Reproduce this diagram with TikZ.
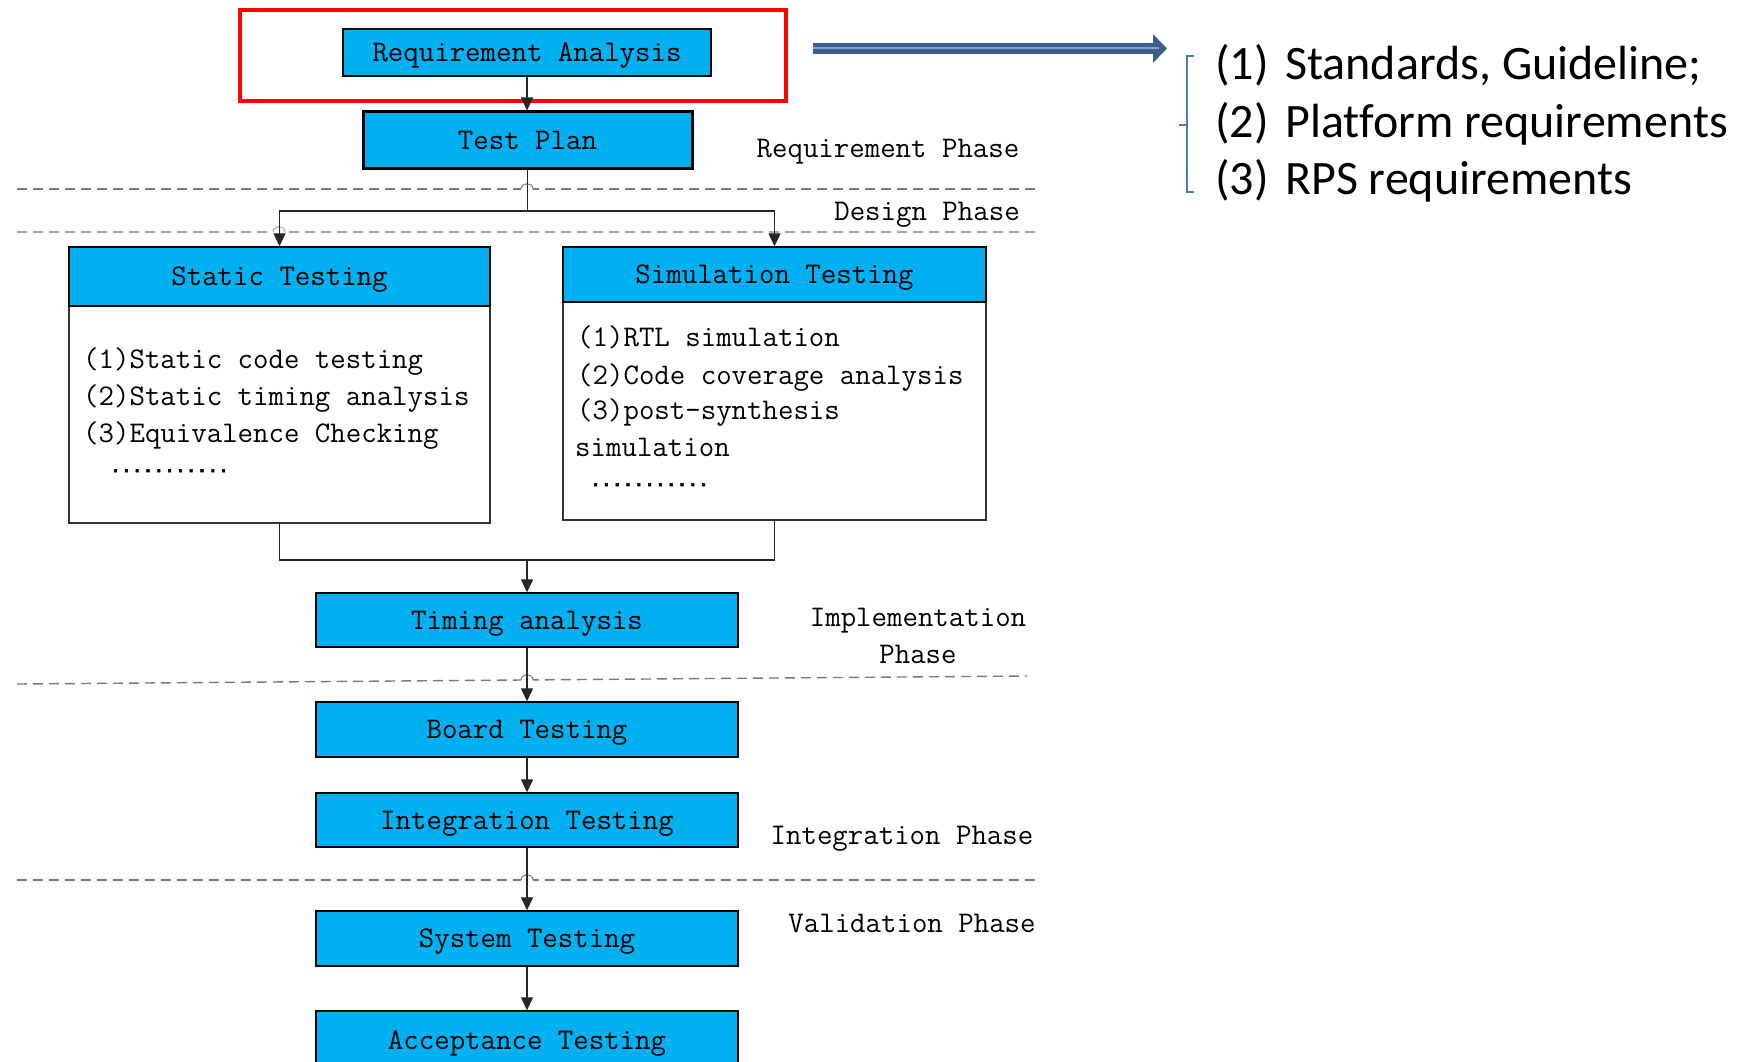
\documentclass[tikz,border=0pt]{standalone}
\usepackage{fontspec}
\usetikzlibrary{arrows.meta}
\newfontfamily\listfont[Ligatures=NoCommon]{Carlito}
\newfontfamily\dotfont[FakeBold=3]{Liberation Mono}
\newcommand\flowfont{\ttfamily\fontsize{30}{37}\selectfont}
\definecolor{boxcyan}{HTML}{00B0F0}
\definecolor{arrowdark}{HTML}{3B5E8C}
\definecolor{arrowlight}{HTML}{7FA3D1}
\definecolor{bracketblue}{HTML}{4A7EBB}
\definecolor{phasegray}{HTML}{7A7A7A}
\definecolor{phaselight}{HTML}{A6A6A6}
\tikzset{
  flowbox/.style={draw=black, line width=1.4pt, fill=boxcyan, inner sep=0pt,
    font=\flowfont, text height=18.3pt, text depth=0pt},
  bodybox/.style={draw=black!80, line width=1.3pt, fill=white, inner sep=0pt},
  lbl/.style={inner sep=0pt, font=\flowfont, text height=18.3pt, text depth=0pt},
  dots/.style={inner sep=0pt, font=\dotfont\bfseries\fontsize{18}{18}\selectfont},
  wire/.style={line width=1.3pt, black!85},
  flow/.style={wire, -{Triangle[length=13pt,width=12pt]}},
  phaseline/.style={dash pattern=on 10pt off 6pt, line width=1.4pt, phasegray},
  hop/.style={line width=1pt, phasegray},
  gap/.style={white, line width=4pt},
  listline/.style={inner sep=0pt, anchor=base west, font=\listfont\fontsize{48}{57}\selectfont}
}
\begin{document}
\begin{tikzpicture}[x=1pt,y=-1pt]
\useasboundingbox (0,0) rectangle (1739,1062);
\clip (0,0) rectangle (1739,1062);
\fill[white] (0,0) rectangle (1739,1062);

% phase separators
\draw[phaseline] (17,189) -- (1038,189);
\draw[phaseline, phaselight] (17,232) -- (1035,232);
\draw[phaseline] (17,684) -- (1027,676);
\draw[phaseline] (17,880) -- (1038,880);

% line hops where connectors cross the separators
\draw[gap] (521,189) -- (533,189);
\draw[hop] (521,189) .. controls (521,182) and (533,182) .. (533,189);
\draw[gap, line width=3pt] (273,232) -- (285,232);
\draw[hop, phaselight] (273,232) .. controls (273,225) and (285,225) .. (285,232);
\draw[gap] (521,680) -- (533,680);
\draw[hop] (521,680) .. controls (521,673) and (533,673) .. (533,680);
\draw[gap] (521,880) -- (533,880);
\draw[hop] (521,880) .. controls (521,873) and (533,873) .. (533,880);

% highlight frame
\node[draw=red, line width=4pt, minimum width=546pt, minimum height=91pt, inner sep=0pt] (focus) at (513,55.5) {};

% flow boxes
\node[flowbox, minimum width=368pt, minimum height=47pt] (ra) at (527,52.5) {Requirement Analysis};
\node[flowbox, line width=3pt, minimum width=329pt, minimum height=56pt] (tp) at (527.5,140) {Test Plan};

\node[bodybox, minimum width=421pt, minimum height=217pt] (staticbody) at (279.5,414.5) {};
\node[flowbox, minimum width=421pt, minimum height=59pt] (static) at (279.5,276.5) {Static Testing};
\node[bodybox, minimum width=423pt, minimum height=218pt] (simbody) at (774.5,411) {};
\node[flowbox, minimum width=423pt, minimum height=55pt] (sim) at (774.5,274.5) {Simulation Testing};

\node[flowbox, minimum width=422pt, minimum height=54pt] (timing) at (527,620) {Timing analysis};
\node[flowbox, minimum width=422pt, minimum height=55pt] (board) at (527,729.5) {Board Testing};
\node[flowbox, minimum width=422pt, minimum height=54pt] (integ) at (527,820) {Integration Testing};
\node[flowbox, minimum width=422pt, minimum height=55pt] (system) at (527,938.5) {System Testing};
\node[flowbox, minimum width=422pt, minimum height=58pt] (accept) at (527,1040) {Acceptance Testing};

% box contents
\node[lbl, anchor=west] (s1) at (83,359) {(1)Static code testing};
\node[lbl, anchor=west] (s2) at (83,396) {(2)Static timing analysis};
\node[lbl, anchor=west] (s3) at (83,433) {(3)Equivalence Checking};
\node[dots, anchor=base west] (s4) at (110,472) {...........};
\node[lbl, anchor=west] (m1) at (577,337) {(1)RTL simulation};
\node[lbl, anchor=west] (m2) at (577,375) {(2)Code coverage analysis};
\node[lbl, anchor=west] (m3) at (577,410) {(3)post-synthesis};
\node[lbl, anchor=west] (m4) at (575,447) {simulation};
\node[dots, anchor=base west] (m5) at (590,486) {...........};

% phase labels
\node[lbl] (p1) at (888,148) {Requirement Phase};
\node[lbl] (p2) at (927,211) {Design Phase};
\node[lbl, align=center, text height=, text depth=] (p3) at (918,636) {Implementation\\Phase};
\node[lbl] (p4) at (902,835) {Integration Phase};
\node[lbl] (p5) at (912,923) {Validation Phase};

% connectors
\coordinate (split) at (527,211);
\coordinate (merge) at (527,560);
\draw[flow] (ra.south) -- (ra.south |- tp.north);
\draw[wire] (tp.south) -- (tp.south |- split);
\draw[flow] (split) -| (static.north);
\draw[flow] (split) -| (sim.north);
\draw[wire] (staticbody.south) |- (merge);
\draw[wire] (simbody.south) |- (merge);
\draw[flow] (merge) -- (timing.north);
\draw[flow] (timing.south) -- (board.north);
\draw[flow] (board.south) -- (integ.north);
\draw[flow] (integ.south) -- (system.north);
\draw[flow] (system.south) -- (accept.north);

% requirement sources
\coordinate (arrowstart) at (813,48.5);
\coordinate (arrowend) at (1167,48.5);
\draw[arrowdark, line width=11pt, -{Triangle[length=14pt,width=28pt]}] (arrowstart) -- (arrowend);
\draw[arrowlight, line width=2pt] (arrowstart) -- ([xshift=-8pt]arrowend);

\draw[bracketblue, line width=2pt] (1194,56) -- (1187,56) -- (1187,192) -- (1194,192);
\draw[bracketblue, line width=2pt] (1187,125) -- (1179,125);

\node[listline] (r1) at (1215,80) {\makebox[70pt][l]{(1)}Standards, Guideline;};
\node[listline] (r2) at (1215,137) {\makebox[70pt][l]{(2)}Platform requirements};
\node[listline] (r3) at (1215,194) {\makebox[70pt][l]{(3)}RPS requirements};
\end{tikzpicture}
\end{document}
